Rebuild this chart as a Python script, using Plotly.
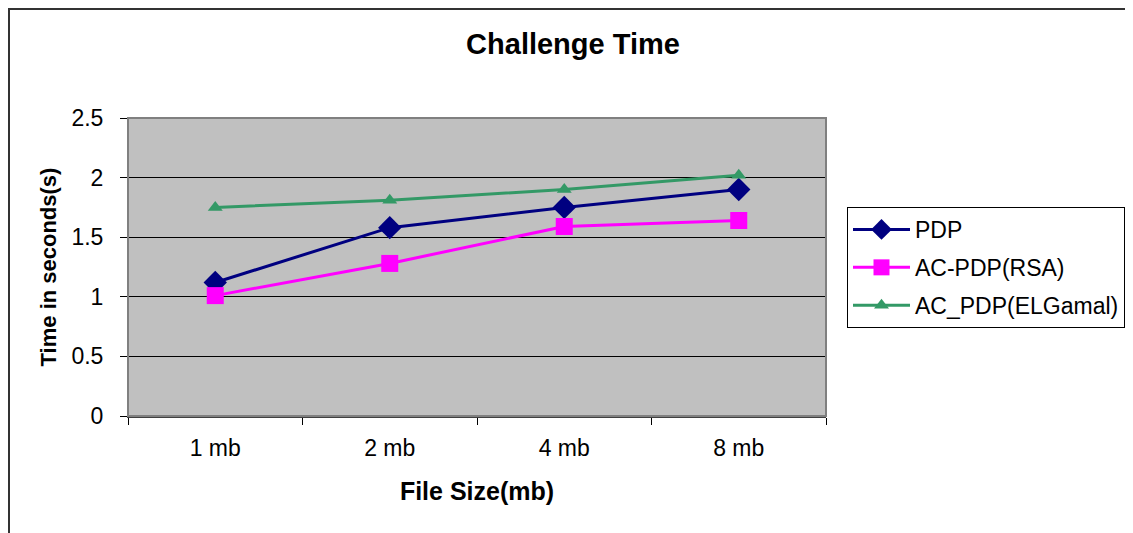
import plotly.graph_objects as go

categories = ["1 mb", "2 mb", "4 mb", "8 mb"]
pdp = [1.12, 1.58, 1.75, 1.90]
ac_pdp_rsa = [1.01, 1.28, 1.59, 1.64]
ac_pdp_elgamal = [1.75, 1.81, 1.90, 2.02]
y_ticks = [0, 0.5, 1, 1.5, 2, 2.5]
y_ticklabels = ["0", "0.5", "1", "1.5", "2", "2.5"]

FONT = "Liberation Sans, Arial, sans-serif"

fig = go.Figure()
fig.add_trace(go.Scatter(x=categories, y=pdp, name="PDP", mode="lines+markers",
                         legendgroup="a",
                         line=dict(color="#000080", width=3),
                         marker=dict(symbol="diamond", size=18, color="#000080")))
fig.add_trace(go.Scatter(x=categories, y=ac_pdp_rsa, name="AC-PDP(RSA)", mode="lines+markers",
                         legendgroup="b",
                         line=dict(color="#FF00FF", width=3),
                         marker=dict(symbol="square", size=17, color="#FF00FF")))
fig.add_trace(go.Scatter(x=categories, y=ac_pdp_elgamal, name="AC_PDP(ELGamal)", mode="lines+markers",
                         legendgroup="c",
                         line=dict(color="#339966", width=3),
                         marker=dict(symbol="triangle-up", size=13, color="#339966")))

# page offset of the browser body margin
OFF = 8
L, R, T, B = 128, 826, 118, 416   # plot area in page pixels
W, H = 1133 - OFF, 533 - OFF
pw, ph = R - L, B - T

def px(x):
    return (x - L) / pw

def py(y):
    return (B - y) / ph

fig.update_layout(
    width=W, height=H,
    margin=dict(l=L - OFF, r=W - (R - OFF), t=T - OFF, b=H - (B - OFF), pad=0,
                autoexpand=False),
    paper_bgcolor="white",
    plot_bgcolor="#C0C0C0",
    font=dict(family=FONT, size=23, color="black"),
    title=dict(text="<b>Challenge Time</b>", x=(573 - OFF) / W, xanchor="center",
               y=1 - (44 - OFF) / H, yanchor="middle", font=dict(size=29)),
    showlegend=True,
    legend=dict(x=px(847), y=py(207), xanchor="left", yanchor="top",
                bordercolor="black", borderwidth=1, bgcolor="white",
                font=dict(size=23), traceorder="grouped", tracegroupgap=5,
                itemwidth=57),
    shapes=[
        dict(type="rect", xref="paper", yref="paper",
             x0=px(OFF + 1), x1=px(1300), y0=py(OFF + 1), y1=py(700),
             line=dict(color="#333333", width=2), layer="below"),
        dict(type="rect", xref="paper", yref="paper",
             x0=0, x1=1, y0=0, y1=1,
             line=dict(color="#808080", width=2), layer="above"),
    ],
)

fig.update_xaxes(
    type="category", range=[-0.5, 3.5],
    tickson="boundaries", ticks="outside", ticklen=7, tickcolor="black",
    showgrid=False, showline=True, linecolor="#404040", linewidth=2,
    tickfont=dict(size=23), ticklabelstandoff=10,
    title=dict(text="<b>File Size(mb)</b>", font=dict(size=25), standoff=23),
)
fig.update_yaxes(
    range=[0, 2.5], tickvals=y_ticks, ticktext=y_ticklabels,
    ticks="outside", ticklen=7, tickcolor="black",
    showgrid=True, gridcolor="black", gridwidth=1,
    showline=True, linecolor="black", linewidth=1,
    zeroline=False,
    tickfont=dict(size=23), ticklabelstandoff=12,
    title=dict(text="<b>Time in seconds(s)</b>", font=dict(size=22), standoff=8),
)

fig.write_html("out.html")
